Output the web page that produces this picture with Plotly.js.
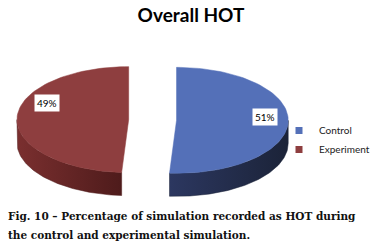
<!DOCTYPE html>
<html>
<head>
<meta charset="utf-8">
<script src="https://cdn.plot.ly/plotly-3.0.1.min.js"></script>
<style>html,body{margin:0;padding:0;background:#fff;}#chart{width:375px;height:249px;}</style>
</head>
<body>
<div id="chart"></div>
<script>
// ---- data ----
const categories = ["Control", "Experiment"];
const values = [51, 49];
const labels = ["51%", "49%"];
const chartTitle = "Overall HOT";
const captionLine1 = "Fig. 10 \u2013 Percentage of simulation recorded as HOT during";
const captionLine2 = "the control and experimental simulation.";

// ---- styling / geometry (pixel-like axis units) ----
const faceColors = ["#5470b8", "#8e3e3f"];
const sideScales = [
  [[0, "#2c3760"], [1, "#1b2338"]],
  [[0, "#7a2f2f"], [1, "#4e1b1b"]]
];
const cx = 153, cy = 120, rx = 112, ry = 53, depth = 23, explode = 24;

const total = values.reduce((a, b) => a + b, 0);
function pt(theta, ox, oy) {
  return [ox + rx * Math.sin(theta), oy - ry * Math.cos(theta)];
}
const traces = [];
const faces = [];
let start = 0;
values.forEach((v, i) => {
  const a0 = start, a1 = start + 2 * Math.PI * v / total;
  start = a1;
  const mid = (a0 + a1) / 2;
  const ox = cx + explode * Math.sin(mid);
  const oy = cy - explode * (ry / rx) * Math.cos(mid);
  // top face
  const fx = [ox], fy = [oy];
  const n = 80;
  for (let k = 0; k <= n; k++) {
    const p = pt(a0 + (a1 - a0) * k / n, ox, oy);
    fx.push(p[0]); fy.push(p[1]);
  }
  fx.push(ox); fy.push(oy);
  faces.push({
    x: fx, y: fy, type: "scatter", mode: "lines", fill: "toself",
    fillcolor: faceColors[i], line: {color: faceColors[i], width: 0.5},
    hoverinfo: "skip", showlegend: false
  });
  // visible side (front half of ellipse)
  const s0 = Math.max(a0, Math.PI / 2), s1 = Math.min(a1, 3 * Math.PI / 2);
  if (s1 > s0) {
    const sx = [], sy = [];
    for (let k = 0; k <= n; k++) {
      const p = pt(s0 + (s1 - s0) * k / n, ox, oy);
      sx.push(p[0]); sy.push(p[1]);
    }
    for (let k = n; k >= 0; k--) {
      const p = pt(s0 + (s1 - s0) * k / n, ox, oy);
      sx.push(p[0]); sy.push(p[1] + depth);
    }
    sx.push(sx[0]); sy.push(sy[0]);
    const sc = sideScales[i];
    traces.push({
      x: sx, y: sy, type: "scatter", mode: "lines", fill: "toself",
      fillgradient: {type: "horizontal", colorscale: sc},
      line: {color: sc[1][1], width: 0.5},
      hoverinfo: "skip", showlegend: false
    });
  }
});
faces.forEach(f => traces.push(f));
// legend entries
categories.forEach((c, i) => {
  traces.push({
    x: [null], y: [null], type: "scatter", mode: "markers", name: c,
    marker: {symbol: "square", size: 7, color: faceColors[i]}
  });
});

const layout = {
  width: 375, height: 249,
  margin: {l: 0, r: 0, t: 0, b: 0},
  paper_bgcolor: "#ffffff", plot_bgcolor: "#ffffff",
  xaxis: {range: [0, 375], visible: false, fixedrange: true},
  yaxis: {range: [249, 0], visible: false, fixedrange: true},
  showlegend: true,
  legend: {
    x: 280 / 375, y: 1 - 116 / 249, xanchor: "left", yanchor: "top",
    font: {family: "Lato, 'Open Sans', sans-serif", size: 10, color: "#222"},
    itemwidth: 30, tracegroupgap: 0, bgcolor: "rgba(0,0,0,0)"
  },
  title: {
    text: "<b>" + chartTitle + "</b>",
    x: 191 / 375, xanchor: "center", xref: "container",
    y: 1 - 15 / 249, yanchor: "middle", yref: "container",
    font: {family: "Lato, 'Open Sans', sans-serif", size: 19, color: "#000"}
  },
  annotations: [
    {x: 266, y: 117, xref: "x", yref: "y", text: labels[0], showarrow: false,
     bgcolor: "#ffffff", borderpad: 2,
     font: {family: "Lato, 'Open Sans', sans-serif", size: 10, color: "#000"}},
    {x: 47, y: 103, xref: "x", yref: "y", text: labels[1], showarrow: false,
     bgcolor: "#ffffff", borderpad: 2,
     font: {family: "Lato, 'Open Sans', sans-serif", size: 10, color: "#000"}},
    {x: 6, y: 216, xref: "x", yref: "y", xanchor: "left", yanchor: "middle",
     text: "<b>" + captionLine1 + "</b>", showarrow: false,
     font: {family: "'DejaVu Serif', serif", size: 10.5, color: "#111"}},
    {x: 6, y: 235, xref: "x", yref: "y", xanchor: "left", yanchor: "middle",
     text: "<b>" + captionLine2 + "</b>", showarrow: false,
     font: {family: "'DejaVu Serif', serif", size: 10.5, color: "#111"}}
  ]
};
Plotly.newPlot("chart", traces, layout, {displayModeBar: false, staticPlot: true});
</script>
</body>
</html>
